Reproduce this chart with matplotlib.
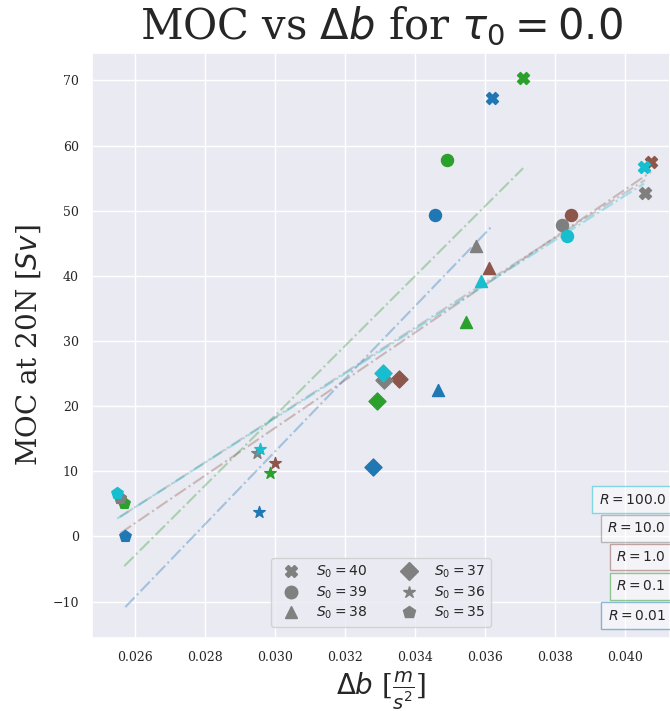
import numpy as np
import matplotlib
matplotlib.use("Agg")
import matplotlib.pyplot as plt
import seaborn as sns
from matplotlib.lines import Line2D

sns.set_theme(style="darkgrid")
plt.rcParams['font.family'] = ['DejaVu Serif']
plt.rcParams['mathtext.fontset'] = 'dejavusans'

# ---- data ----
R_values = [0.01, 0.1, 1.0, 10.0, 100.0]
S0_values = [40, 39, 38, 37, 36, 35]
markers = ['X', 'o', '^', 'D', '*', 'p']

# Delta b (m/s^2) per R, in S0 order (40, 39, 38, 37, 36, 35)
db_R001 = [0.03620, 0.03457, 0.03466, 0.03280, 0.02955, 0.02573]
db_R01 = [0.03708, 0.03491, 0.03545, 0.03292, 0.02985, 0.02570]
db_R1 = [0.04073, 0.03845, 0.03611, 0.03354, 0.03000, 0.02558]
db_R10 = [0.04056, 0.03819, 0.03574, 0.03312, 0.02948, 0.02558]
db_R100 = [0.04053, 0.03834, 0.03588, 0.03309, 0.02958, 0.02550]

# MOC at 20N (Sv) per R, in S0 order
moc_R001 = [67.3, 49.3, 22.5, 10.7, 3.8, 0.0]
moc_R01 = [70.3, 57.7, 32.9, 20.8, 9.7, 5.1]
moc_R1 = [57.4, 49.3, 41.2, 24.2, 11.3, 5.9]
moc_R10 = [52.7, 47.8, 44.6, 24.0, 12.8, 5.9]
moc_R100 = [56.7, 46.1, 39.2, 25.1, 13.4, 6.7]

db_all = [db_R001, db_R01, db_R1, db_R10, db_R100]
moc_all = [moc_R001, moc_R01, moc_R1, moc_R10, moc_R100]

colors = plt.cm.tab10(np.linspace(0, 1, len(R_values)))

fig = plt.figure(figsize=(6.7, 7.11), dpi=100)
ax = fig.add_axes([92 / 670, 73 / 711, 578 / 670, 585 / 711])

for db, moc, c in zip(db_all, moc_all, colors):
    db = np.array(db)
    moc = np.array(moc)
    k, b0 = np.polyfit(db, moc, 1)
    xs = np.array([db.min(), db.max()])
    ax.plot(xs, k * xs + b0, linestyle='-.', color=c, alpha=0.35, lw=1.5, zorder=2)

for db, moc, c in zip(db_all, moc_all, colors):
    for x, y, m in zip(db, moc, markers):
        ax.scatter(x, y, marker=m, color=c, s=75, zorder=3)

ax.set_xlim(0.02478, 0.04127)
ax.set_ylim(-15.6, 74.2)
ax.set_xticks([0.026, 0.028, 0.030, 0.032, 0.034, 0.036, 0.038, 0.040])
ax.tick_params(labelsize=9)

ax.set_title(r'MOC vs $\Delta b$ for $\tau_0 = 0.0$', fontsize=30, pad=10)
ax.set_ylabel(r'MOC at 20N [$Sv$]', fontsize=20, labelpad=7)
ax.set_xlabel(r'$\Delta b$ [$\frac{m}{s^2}$]', fontsize=20)

handles = [Line2D([], [], marker=m, color='gray', linestyle='None', markersize=9)
           for m in markers]
labels = [r'$S_0 = %d$' % s for s in S0_values]
ax.legend(handles, labels, loc='lower center', ncol=2, fontsize=10,
          labelspacing=0.3, borderaxespad=0.8)

ys = [499.5, 528.5, 557, 586.5, 615.5]
for R, c, yp in zip(R_values[::-1], colors[::-1], ys):
    fig.text(666 / 670, 1 - yp / 711, r'$R = %s$' % R, ha='right', va='center',
             fontsize=10,
             bbox=dict(boxstyle='square,pad=0.45', facecolor='white', edgecolor=c, alpha=0.5))

fig.savefig('out.png', dpi=100)
